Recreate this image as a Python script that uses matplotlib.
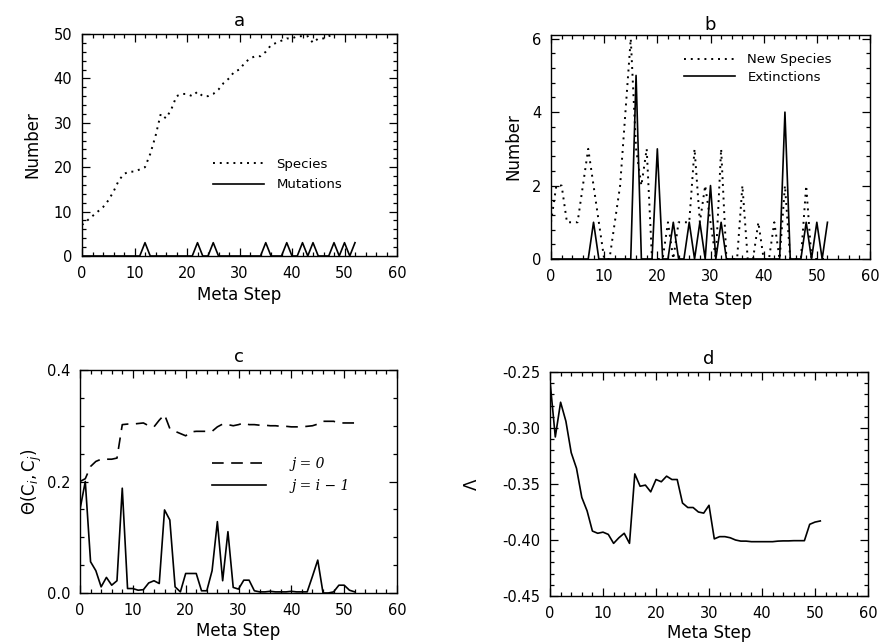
import numpy as np
import matplotlib
matplotlib.use("Agg")
import matplotlib.pyplot as plt
from matplotlib.ticker import MultipleLocator, FormatStrFormatter

# ---------------- data ----------------
steps_a = list(range(0, 53))
species = [7, 8, 9, 10, 11, 12.5, 14.5, 17, 18.5, 19, 19, 19.5, 20, 23, 27, 32, 31, 33, 36, 36.5,
           36.5, 36, 37, 36, 36, 36.5, 37.5, 39, 40, 41.5, 42, 43.5, 44.5, 45, 45, 46, 47.5, 48, 48.5, 49,
           49, 49.5, 49.5, 49.5, 48, 49, 49, 49.5, 50, 50, 50, 50, 50]
mutations = [0, 0, 0, 0, 0, 0, 0, 0, 0, 0, 0, 0, 3, 0, 0, 0, 0, 0, 0, 0,
             0, 0, 3, 0, 0, 3, 0, 0, 0, 0, 0, 0, 0, 0, 0, 3, 0, 0, 0, 3,
             0, 0, 3, 0, 3, 0, 0, 0, 3, 0, 3, 0, 3]

steps_b = list(range(0, 53))
new_species = [1, 2, 2, 1, 1, 1, 2, 3, 2, 1, 0, 0, 1, 2, 4, 6, 3, 2, 3, 0,
               0, 0, 1, 0, 1, 1, 1, 3, 1, 2, 1, 0, 3, 0, 0, 0, 2, 0, 0, 1,
               0, 0, 1, 0, 2, 0, 0, 0, 2, 0, 0, 0, 0]
extinctions = [0, 0, 0, 0, 0, 0, 0, 0, 1, 0, 0, 0, 0, 0, 0, 0, 5, 0, 0, 0,
               3, 0, 0, 1, 0, 0, 1, 0, 1, 0, 2, 0, 1, 0, 0, 0, 0, 0, 0, 0,
               0, 0, 0, 0, 4, 0, 0, 0, 1, 0, 1, 0, 1]

steps_c = list(range(0, 53))
theta_j0 = [0.200, 0.205, 0.227, 0.236, 0.240, 0.240, 0.240, 0.242, 0.302, 0.303,
            0.303, 0.304, 0.305, 0.300, 0.298, 0.310, 0.320, 0.295, 0.290, 0.286,
            0.282, 0.289, 0.290, 0.290, 0.290, 0.290, 0.298, 0.303, 0.302, 0.300,
            0.302, 0.305, 0.302, 0.302, 0.301, 0.301, 0.300, 0.300, 0.299, 0.299,
            0.298, 0.298, 0.298, 0.299, 0.300, 0.303, 0.308, 0.308, 0.308, 0.305,
            0.305, 0.305, 0.305]
theta_prev = [0.150, 0.200, 0.056, 0.040, 0.011, 0.028, 0.014, 0.022, 0.188, 0.008,
              0.008, 0.005, 0.006, 0.018, 0.022, 0.017, 0.149, 0.131, 0.011, 0.002,
              0.035, 0.035, 0.035, 0.004, 0.004, 0.040, 0.128, 0.022, 0.110, 0.010,
              0.007, 0.023, 0.023, 0.004, 0.002, 0.002, 0.003, 0.002, 0.002, 0.002,
              0.003, 0.002, 0.002, 0.002, 0.030, 0.059, 0.000, 0.000, 0.002, 0.014,
              0.014, 0.005, 0.002]

steps_d = list(range(0, 52))
lam = [-0.258, -0.308, -0.277, -0.294, -0.322, -0.336, -0.362, -0.374, -0.392, -0.394,
       -0.393, -0.395, -0.403, -0.398, -0.394, -0.403, -0.341, -0.352, -0.351, -0.357,
       -0.346, -0.348, -0.343, -0.346, -0.346, -0.367, -0.371, -0.371, -0.375, -0.376,
       -0.369, -0.399, -0.397, -0.397, -0.398, -0.400, -0.401, -0.401, -0.4015, -0.4015,
       -0.4015, -0.4015, -0.4015, -0.401, -0.4008, -0.4008, -0.4006, -0.4006, -0.4006, -0.386,
       -0.384, -0.383]

# ---------------- style ----------------
plt.rcParams['font.family'] = ['DejaVu Sans']
plt.rcParams['mathtext.fontset'] = 'dejavusans'
TICK_FS = 10.5
LAB_FS = 12
LEG_FS = 9.5
LW = 1.2
DOT = (0, (1, 2.5))
DASH = (0, (7, 4.5))

W, H = 881, 642
fig = plt.figure(figsize=(W / 100, H / 100), dpi=100)


def make_ax(l, r, t, b):
    return fig.add_axes([l / W, 1 - b / H, (r - l) / W, (b - t) / H])


def style(ax, xmaj, xmin, ymaj, ymin):
    ax.xaxis.set_major_locator(MultipleLocator(xmaj))
    ax.xaxis.set_minor_locator(MultipleLocator(xmin))
    ax.yaxis.set_major_locator(MultipleLocator(ymaj))
    ax.yaxis.set_minor_locator(MultipleLocator(ymin))
    ax.tick_params(which='both', direction='in', top=True, right=True,
                   labelsize=TICK_FS, width=0.9, color='black')
    ax.tick_params(which='major', length=6, pad=7)
    ax.tick_params(which='minor', length=3)
    for s in ax.spines.values():
        s.set_linewidth(1.0)


def labels(ax, title, ylabel, xoff, yoff=0.18, toff=0.06):
    ax.set_xlabel('Meta Step', fontsize=LAB_FS)
    ax.set_ylabel(ylabel, fontsize=LAB_FS)
    ax.xaxis.label.set_va('center')
    ax.yaxis.label.set_va('center')
    ax.xaxis.set_label_coords(0.5, -yoff)
    ax.yaxis.set_label_coords(-xoff, 0.5)
    ax.text(0.5, 1 + toff, title, transform=ax.transAxes, ha='center', va='center',
            fontsize=LAB_FS + 1)


# ---- panel a ----
ax_a = make_ax(82, 397, 34, 256)
ax_a.plot(steps_a, species, color='black', lw=1.4, linestyle=DOT, label='Species')
ax_a.plot(steps_a, mutations, color='black', lw=LW, label='Mutations')
ax_a.set_xlim(0, 60)
ax_a.set_ylim(0, 50)
style(ax_a, 10, 2, 10, 2)
labels(ax_a, 'a', 'Number', 0.156, 0.176, 0.06)
ax_a.legend(loc='upper left', bbox_to_anchor=(0.416, 0.441), frameon=False,
            fontsize=LEG_FS, handlelength=3.9, handletextpad=0.9, borderpad=0,
            borderaxespad=0, labelspacing=0.55)

# ---- panel b ----
ax_b = make_ax(551, 870, 35, 259)
ax_b.plot(steps_b, new_species, color='black', lw=1.4, linestyle=DOT, label='New Species')
ax_b.plot(steps_b, extinctions, color='black', lw=LW, label='Extinctions')
ax_b.set_xlim(0, 60)
ax_b.set_ylim(0, 6.1)
style(ax_b, 10, 2, 2, 0.4)
labels(ax_b, 'b', 'Number', 0.119, 0.183, 0.045)
ax_b.legend(loc='upper left', bbox_to_anchor=(0.417, 0.918), frameon=False,
            fontsize=LEG_FS, handlelength=3.9, handletextpad=0.9, borderpad=0,
            borderaxespad=0, labelspacing=0.35)

# ---- panel c ----
ax_c = make_ax(80, 397, 370, 593)
ax_c.plot(steps_c, theta_j0, color='black', lw=LW, linestyle=DASH, label='j = 0')
ax_c.plot(steps_c, theta_prev, color='black', lw=LW, label='j = i \u2212 1')
ax_c.set_xlim(0, 60)
ax_c.set_ylim(0, 0.4)
style(ax_c, 10, 2, 0.2, 0.05)
ax_c.yaxis.set_major_formatter(FormatStrFormatter('%.1f'))
labels(ax_c, 'c', r'$\Theta(\mathrm{C}_i,\mathrm{C}_j)$', 0.151, 0.172, 0.058)
leg = ax_c.legend(loc='upper left', bbox_to_anchor=(0.416, 0.61), frameon=False,
                  fontsize=LEG_FS + 0.5, handlelength=3.9, handletextpad=1.8, borderpad=0,
                  borderaxespad=0, labelspacing=0.55)
for t in leg.get_texts():
    t.set_fontstyle('italic')
    t.set_fontfamily('DejaVu Serif')

# ---- panel d ----
ax_d = make_ax(550, 868, 372, 596)
ax_d.plot(steps_d, lam, color='black', lw=LW)
ax_d.set_xlim(0, 60)
ax_d.set_ylim(-0.45, -0.25)
style(ax_d, 10, 2, 0.05, 0.01)
ax_d.yaxis.set_major_formatter(FormatStrFormatter('%.2f'))
labels(ax_d, 'd', '\u039b', 0.245, 0.165, 0.058)

fig.savefig('out.png', dpi=100)
